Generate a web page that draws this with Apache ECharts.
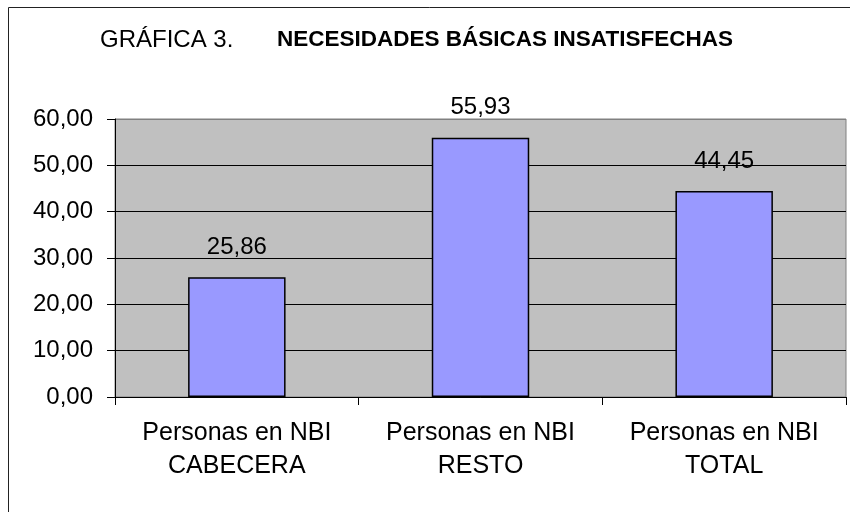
<!DOCTYPE html>
<html>
<head>
<meta charset="utf-8">
<script src="https://cdn.jsdelivr.net/npm/echarts@6/dist/echarts.min.js"></script>
<style>
  html, body { margin: 0; padding: 0; background: #fff; }
  #chart { width: 850px; height: 512px; }
</style>
</head>
<body>
<div id="chart"></div>
<script>
(function (window, document, echarts) {

	/** data **/
	var categories = ['Personas en NBI\nCABECERA', 'Personas en NBI\nRESTO', 'Personas en NBI\nTOTAL'];
	var values = [25.86, 55.93, 44.45];
	var yTicks = [0, 10, 20, 30, 40, 50, 60];

	var font = 'Liberation Sans, Arial, sans-serif';
	function fmt(v) { return v.toFixed(2).replace('.', ','); }

	var chart = echarts.init(document.getElementById('chart'));
	var option = {
		animation: false,
		backgroundColor: '#fff',
		title: [
			{
				text: 'GRÁFICA 3.',
				left: 100, top: 28, padding: 0,
				textStyle: { fontFamily: font, fontSize: 24, fontWeight: 'normal', color: '#000' }
			},
			{
				text: 'NECESIDADES BÁSICAS INSATISFECHAS',
				left: 277, top: 28, padding: 0,
				textStyle: { fontFamily: font, fontSize: 22.5, fontWeight: 'bold', color: '#000' }
			}
		],
		graphic: [
			{
				type: 'rect',
				shape: { x: 8.5, y: 7.5, width: 900, height: 600 },
				style: { fill: 'none', stroke: '#222', lineWidth: 1 },
				z: -1
			}
		],
		grid: {
			left: 115, top: 119, right: 4, bottom: 115,
			show: true, backgroundColor: '#c0c0c0', borderColor: '#808080', borderWidth: 1
		},
		xAxis: {
			type: 'category',
			data: categories,
			axisLine: { lineStyle: { color: '#000', width: 1 } },
			axisTick: { show: true, length: 8, lineStyle: { color: '#000' } },
			axisLabel: {
				interval: 0, hideOverlap: false,
				margin: 20, fontFamily: font, fontSize: 25, lineHeight: 33, color: '#000'
			}
		},
		yAxis: {
			type: 'value',
			min: yTicks[0], max: yTicks[yTicks.length - 1], interval: 10,
			axisLine: { show: true, lineStyle: { color: '#000', width: 1 } },
			axisTick: { show: true, length: 8, lineStyle: { color: '#000' } },
			axisLabel: {
				margin: 22, fontFamily: font, fontSize: 24, color: '#000',
				formatter: function (v) { return fmt(v); }
			},
			splitLine: {
				show: true,
				lineStyle: { color: ['#000', '#000', '#000', '#000', '#000', '#000', '#808080'], width: 1 }
			}
		},
		series: [
			{
				type: 'bar',
				data: values,
				barWidth: '40%',
				itemStyle: { color: '#9999ff', borderColor: '#000', borderWidth: 1.5 },
				label: {
					show: true, position: 'top', distance: 18,
					fontFamily: font, fontSize: 24, color: '#000',
					formatter: function (p) { return fmt(p.value); }
				}
			}
		]
	};
	chart.setOption(option);

})(window, document, echarts);
</script>
</body>
</html>
